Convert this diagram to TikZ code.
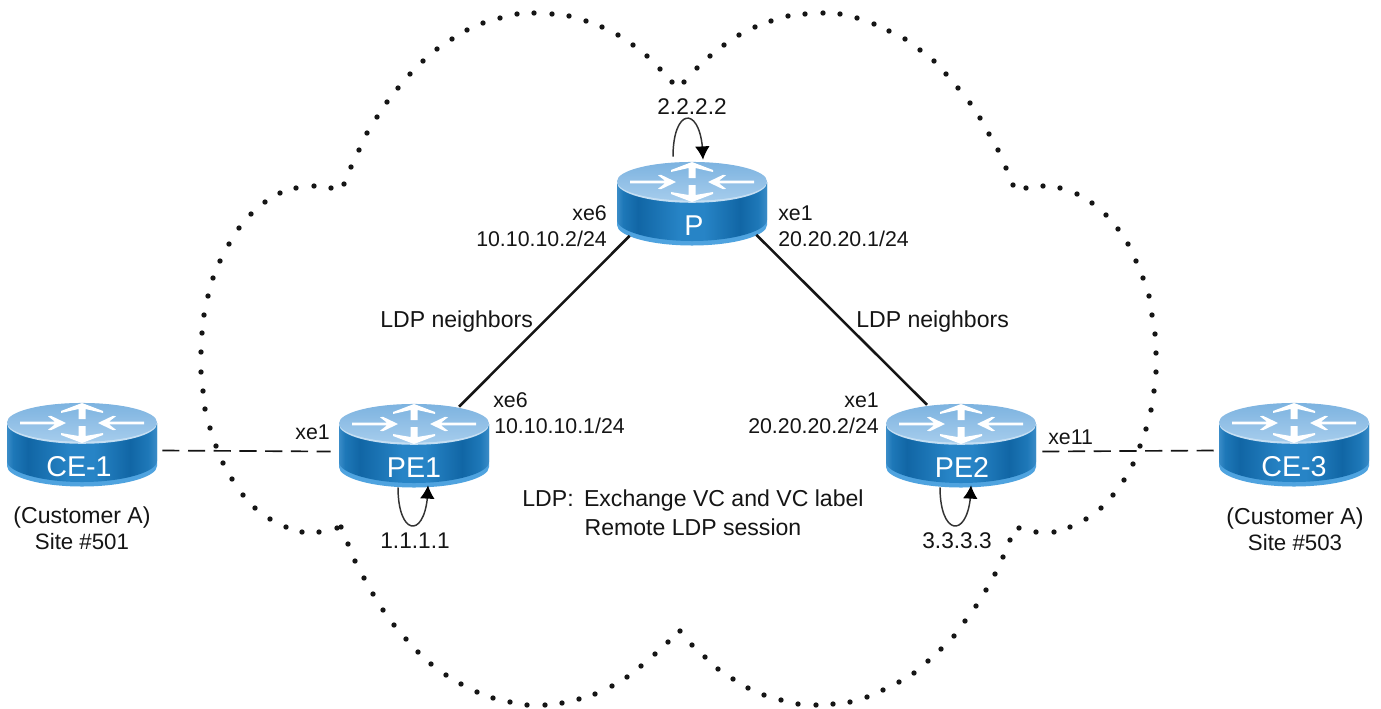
\documentclass[tikz,border=0pt]{standalone}
\usepackage{fontspec}
\setmainfont{Liberation Sans}
\usetikzlibrary{calc,arrows.meta,bending}
\definecolor{inkc}{HTML}{151515}
\definecolor{rs1}{HTML}{3A8CC8}
\definecolor{rs2}{HTML}{1E78B8}
\definecolor{rs3}{HTML}{1166A5}
\definecolor{rs4}{HTML}{2784C6}
\definecolor{rimc}{HTML}{4FA3DF}
\definecolor{topa}{HTML}{7DB3E0}
\definecolor{topb}{HTML}{A5CCEC}
\definecolor{topr}{HTML}{C6DFF3}
\pgfdeclarehorizontalshading{routerside}{100bp}{
  color(0bp)=(rs1); color(25bp)=(rs1); color(27bp)=(rs2); color(32bp)=(rs3);
  color(46bp)=(rs4); color(54bp)=(rs4); color(66bp)=(rs3); color(72bp)=(rs2);
  color(75bp)=(rs1); color(100bp)=(rs1)}
\tikzset{
  x=0.75pt,y=-0.75pt,
  clouddot/.style={fill=inkc,draw=none},
  routerbox/.style={inner sep=0pt,minimum width=112.5pt,minimum height=62.25pt},
  routertext/.style={inner sep=0pt,text=white,font=\fontsize{21.5pt}{24pt}\selectfont,anchor=base},
  txt/.style={inner sep=0pt,text=inkc,font=\fontsize{16pt}{21.75pt}\selectfont},
  words/.style={inner sep=0pt,text=inkc,font=\fontsize{17.3pt}{21.75pt}\selectfont},
  sitetxt/.style={inner sep=0pt,text=inkc,anchor=base,font=\fontsize{16.7pt}{21.75pt}\selectfont},
  loopaddr/.style={inner sep=0pt,text=inkc,anchor=base,font=\fontsize{17pt}{21.75pt}\selectfont},
  link/.style={line width=1.9pt,draw=inkc},
  access/.style={line width=1.25pt,draw=inkc,dash pattern=on 12.8pt off 6.5pt},
  loopback/.style={line width=1.1pt,draw=black!80,-{Latex[length=10pt,width=11pt,flex=1,color=black,fill=black]}},
  arrowpart/.style={fill=white,draw=none}
}
% \routernode{name}{centre x}{top y}{label}{label x offset}
\newcommand{\routernode}[5]{%
  \begin{scope}[shift={(#2,#3+20)}]
    \fill[color=rimc] (-75,0) -- (-75,43) .. controls (-75,54) and (-41.4,63.5) .. (0,63.5)
      .. controls (41.4,63.5) and (75,54) .. (75,43) -- (75,0) -- cycle;
    \shade[shading=routerside] (-75,0) -- (-75,38) .. controls (-75,49) and (-41.4,59) .. (0,59)
      .. controls (41.4,59) and (75,49) .. (75,38) -- (75,0) -- cycle;
    \fill[color=topr] (0,0.5) ellipse [x radius=56.25pt,y radius=15.2pt];
    \shade[top color=topa,bottom color=topb] (0,-0.7) ellipse [x radius=56.25pt,y radius=14.5pt];
    \fill[arrowpart] (-62,-1.3) -- (-27,-1.3) -- (-34,-6.8) -- (-31,-7.2) -- (-16,0) -- (-31,7.2) -- (-34,6.8) -- (-27,1.3) -- (-62,1.3) -- cycle;
    \fill[arrowpart] (62,-1.3) -- (27,-1.3) -- (34,-6.8) -- (31,-7.2) -- (16,0) -- (31,7.2) -- (34,6.8) -- (27,1.3) -- (62,1.3) -- cycle;
    \fill[arrowpart] (-3.5,-4) -- (-3.5,-14) -- (-21,-10) -- (-21,-12) -- (0,-20) -- (21,-12) -- (21,-10) -- (3.5,-14) -- (3.5,-4) -- cycle;
    \fill[arrowpart] (-3.5,3) -- (-3.5,13) -- (-21,10) -- (-21,12) -- (0,20) -- (21,12) -- (21,10) -- (3.5,13) -- (3.5,3) -- cycle;
  \end{scope}
  \node[routerbox] (#1) at (#2,#3+41.5) {};
  \node[routertext] (#1-name) at (#2+#5,#3+73) {#4};
}
\begin{document}
\begin{tikzpicture}
\useasboundingbox[fill=white] (0,0) rectangle (1381,708);

% cloud outline: one round dot at each position along the six lobes
\foreach \dotpos in {
  (672,82),(660,69),(647,56),(633,45),(618,35),(602,27),(586,21),(569,16),(552,14),(534,13),(517,14),(500,18),(483,23),(467,30),(452,39),(437,49),(423,61),(410,74),(398,88),(387,102),(377,117),(367,133),(359,150),(351,167),(344,184),
  (331,188),(314,186),(296,188),(280,193),(265,202),(251,214),(239,228),(229,244),(220,261),(213,278),(208,296),(204,315),(202,333),(201,352),(201,372),(203,391),(205,409),(210,428),(216,446),(223,463),(232,479),(243,495),(255,508),(270,519),(286,527),(302,532),(319,532),(337,528),
  (341,527),(348,544),(355,561),(364,578),(373,594),(383,610),(394,625),(406,639),(418,652),(431,664),(446,675),(461,684),(477,692),(493,698),(510,702),(527,705),(545,705),(562,703),(579,699),(595,694),(612,686),(627,677),(641,666),(655,654),(668,642),(680,631),
  (692,645),(705,657),(718,669),(733,679),(748,688),(764,695),(781,700),(798,704),(816,705),(833,704),(850,702),(867,697),(883,690),(899,682),(914,673),(928,661),(941,649),(954,636),(965,621),(976,606),(986,590),(995,574),(1003,557),(1010,540),(1019,528),
  (1036,532),(1054,532),(1070,527),(1086,519),(1101,508),(1113,495),(1124,480),(1133,464),(1140,446),(1146,429),(1151,410),(1154,391),(1156,372),(1156,353),(1155,334),(1152,315),(1149,296),(1143,278),(1136,261),(1128,244),(1118,229),(1106,215),(1092,203),(1077,194),(1060,188),(1043,186),(1026,188),
  (1013,185),(1006,168),(998,150),(989,134),(980,118),(970,103),(958,88),(946,74),(934,61),(920,50),(905,39),(889,31),(874,24),(857,18),(840,14),(823,13),(805,14),(788,16),(771,21),(755,27),(739,35),(724,45),(710,56),(697,68),(684,82)}
  \fill[clouddot] \dotpos circle [radius=2pt];

% routers
\routernode{CE1}{82}{403}{CE-1}{-3}
\routernode{PE1}{414}{404}{PE1}{0}
\routernode{P}{692}{162}{P}{2}
\routernode{PE2}{961}{404}{PE2}{1}
\routernode{CE3}{1294}{403}{CE-3}{0}

% links
\draw[link] ($(P.south west)+(13,-9.5)$) -- ($(PE1.north)+(45,3)$);
\draw[link] ($(P.south east)+(-11,-10.5)$) -- ($(PE2.north)+(-34,1)$);
\draw[access] ($(CE1.east)+(5,6)$) -- ($(PE1.west)+(-8,6)$);
\draw[access] ($(PE2.east)+(6,6)$) -- ($(CE3.west)+(-5,6)$);

% loopbacks
\draw[loopback] ($(P.north)+(-19,-5)$) .. controls ($(P.north)+(-19,-57)$) and ($(P.north)+(11,-57)$) .. ($(P.north)+(11,-2)$);
\draw[loopback] ($(PE1.south)+(-16,0)$) .. controls ($(PE1.south)+(-16,52)$) and ($(PE1.south)+(14,52)$) .. ($(PE1.south)+(14,-2)$);
\draw[loopback] ($(PE2.south)+(-21,0)$) .. controls ($(PE2.south)+(-21,52)$) and ($(PE2.south)+(10,52)$) .. ($(PE2.south)+(10,-2)$);

% labels
\node[loopaddr] (lo2) at (692,114) {2.2.2.2};
\node[txt,anchor=base east] (pxe6) at (607,220) {xe6};
\node[txt,anchor=base east] (pip6) at (607,246) {10.10.10.2/24};
\node[txt,anchor=base west] (pxe1) at (778,220) {xe1};
\node[txt,anchor=base west] (pip1) at (778,246) {20.20.20.1/24};
\node[words,anchor=base west] (ldpl) at (380,327) {LDP neighbors};
\node[words,anchor=base west] (ldpr) at (856,327) {LDP neighbors};
\node[txt,anchor=base west] (e6) at (493,407) {xe6};
\node[txt,anchor=base west] (ip6) at (494,433) {10.10.10.1/24};
\node[txt,anchor=base east] (e1) at (330,439) {xe1};
\node[loopaddr] (lo1) at (415,548) {1.1.1.1};
\node[words,align=center] (vc) at (693,513) {LDP:\hspace{0.45em}Exchange VC and VC label\\Remote LDP session};
\node[txt,anchor=base east] (p2xe1) at (879,407) {xe1};
\node[txt,anchor=base east] (p2ip) at (879,433) {20.20.20.2/24};
\node[txt,anchor=base west] (xe11) at (1048,444) {xe11};
\node[loopaddr] (lo3) at (957,548) {3.3.3.3};
\node[words,anchor=base] (ca1) at (82,523) {(Customer A)};
\node[sitetxt] (s1) at (82,549) {Site \#501};
\node[words,anchor=base] (ca3) at (1295,524) {(Customer A)};
\node[sitetxt] (s3) at (1295,550) {Site \#503};
\end{tikzpicture}
\end{document}
